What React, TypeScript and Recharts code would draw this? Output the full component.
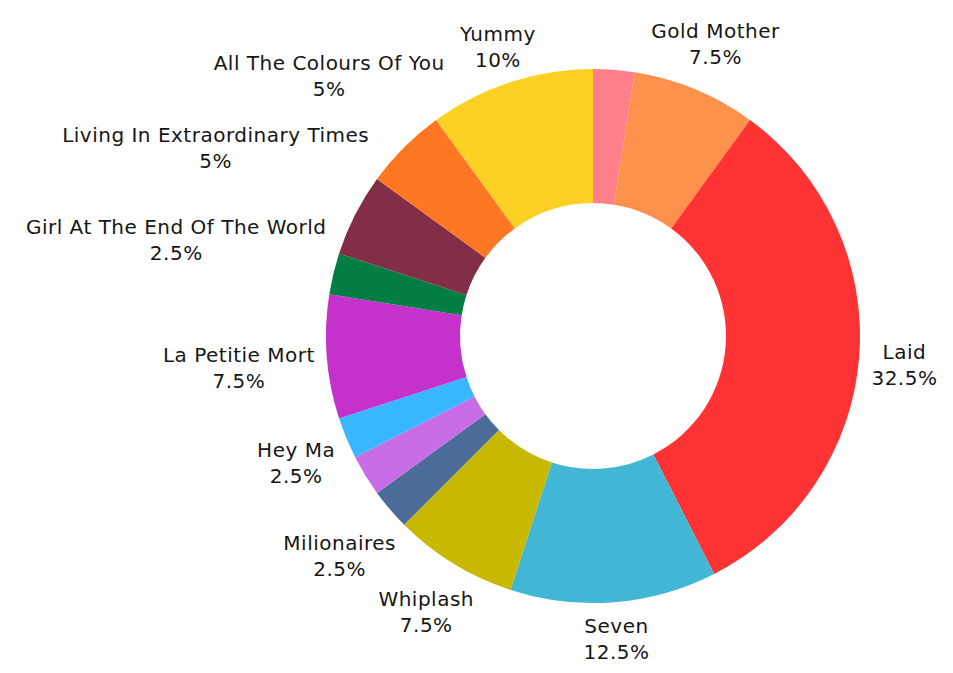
import { PieChart, Pie, Cell } from "recharts";

const songs = ["", "Gold Mother", "Laid", "Seven", "Whiplash", "Milionaires", " ", "Hey Ma", "La Petitie Mort", "Girl At The End Of The World", "Living In Extraordinary Times", "All The Colours Of You", "Yummy"];
const shares = [2.5, 7.5, 32.5, 12.5, 7.5, 2.5, 2.5, 2.5, 7.5, 2.5, 5, 5, 10];
const COLORS = ["#ff7f8a", "#ff914d", "#ff3333", "#42b7d5", "#c8b800", "#4b6b98", "#c86de6", "#38b6ff", "#c532cb", "#027d44", "#812e46", "#ff7722", "#fdd124"];

const data = songs.map((name, i) => ({ name, value: shares[i] }));

const FONT = "20px 'DejaVu Sans'";
const SPACING = 0.5;
let ctx: CanvasRenderingContext2D | null = null;
function textWidth(s: string) {
  if (!ctx) ctx = document.createElement("canvas").getContext("2d");
  if (!ctx) return s.length * 10;
  ctx.font = FONT;
  return ctx.measureText(s).width + SPACING * s.length;
}

// label box is pushed out until it just clears a ring a little outside the donut
function renderLabel(props: any) {
  const { cx, cy, midAngle, outerRadius, name, value } = props;
  if (!name || !name.trim()) return null;
  const pct = `${value}%`;
  const hw = Math.max(textWidth(name), textWidth(pct)) / 2;
  const hh = 19;
  const rad = (-midAngle * Math.PI) / 180;
  const ux = Math.cos(rad), uy = Math.sin(rad);
  const r = outerRadius + 11 + hw * Math.abs(ux) + hh * Math.abs(uy);
  const x = cx + r * ux, y = cy + r * uy;
  return (
    <text x={x} y={y} textAnchor="middle" fill="#161616" style={{ font: FONT, letterSpacing: SPACING }}>
      <tspan x={x} y={y - 2}>{name}</tspan>
      <tspan x={x} y={y + 24}>{pct}</tspan>
    </text>
  );
}

export default function App() {
  return (
    <PieChart width={937} height={657} margin={{ top: 0, right: 0, bottom: 0, left: 0 }}>
      <Pie data={data} dataKey="value" nameKey="name" cx={585} cy={328} innerRadius={133} outerRadius={267}
        startAngle={90} endAngle={-270} stroke="none" label={renderLabel} labelLine={false} isAnimationActive={false}>
        {data.map((d, i) => <Cell key={i} fill={COLORS[i]} />)}
      </Pie>
    </PieChart>
  );
}
